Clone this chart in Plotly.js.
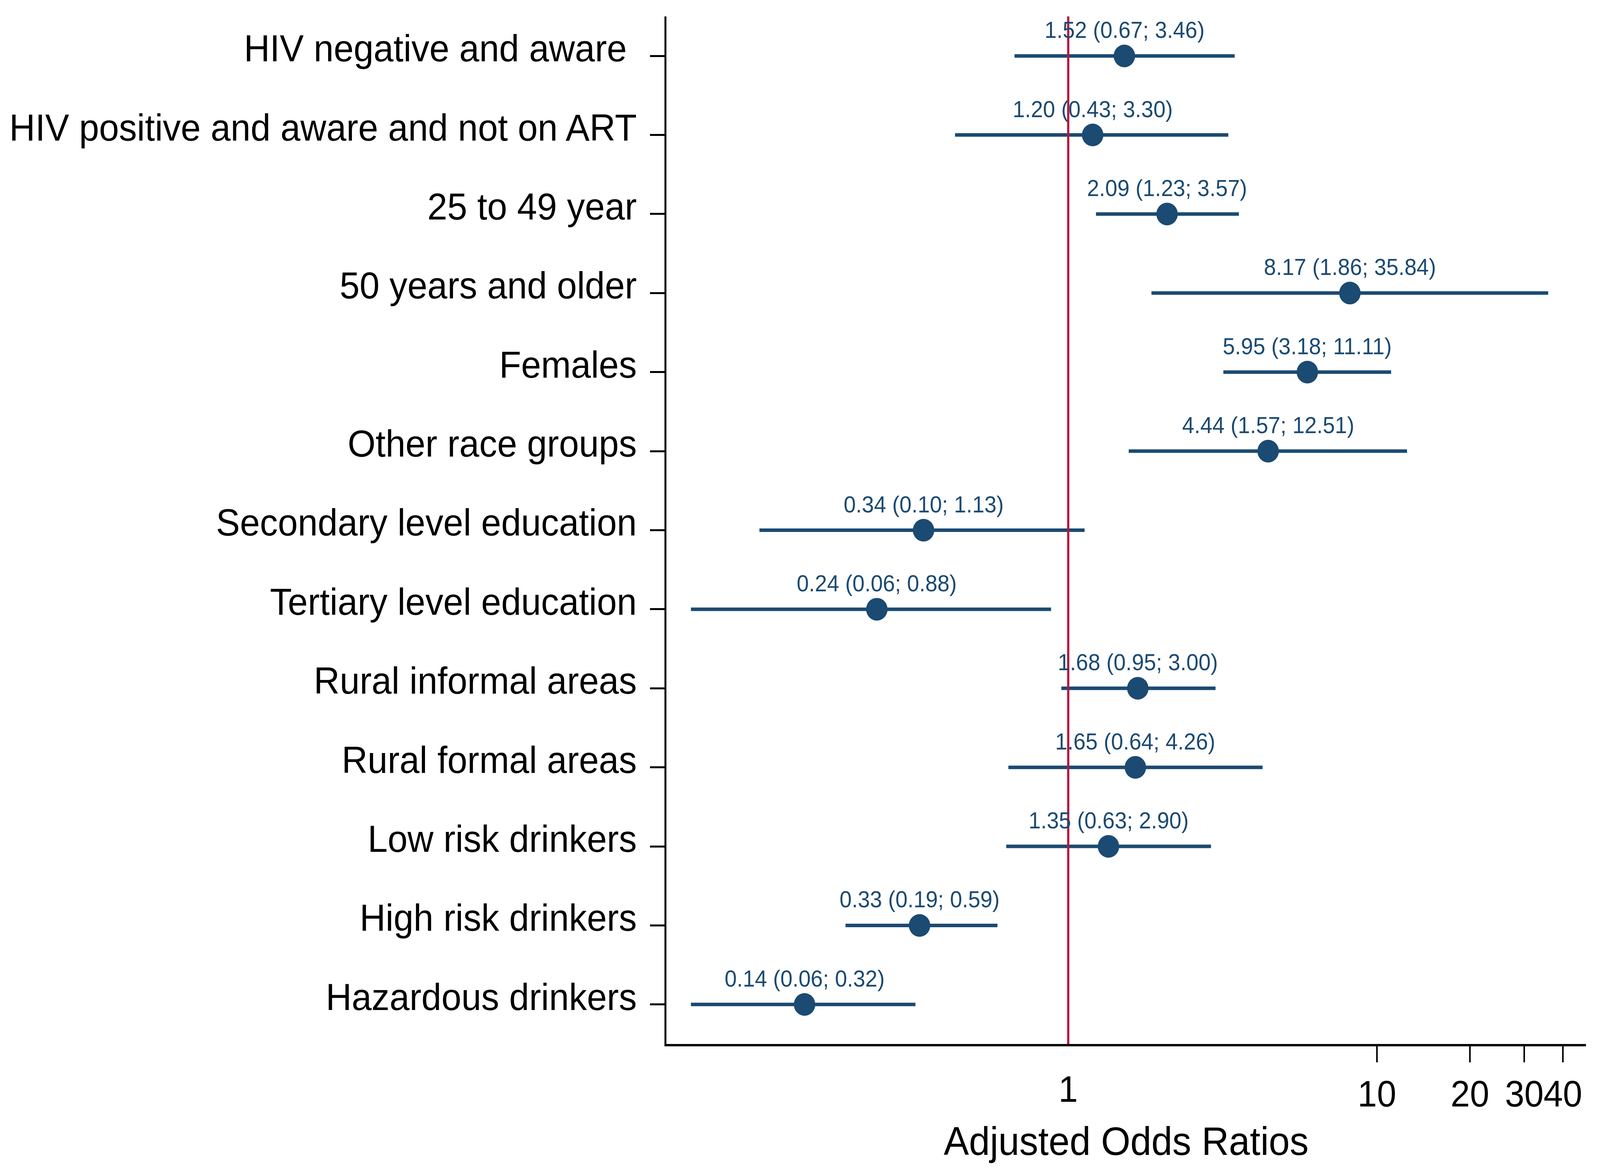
<!DOCTYPE html>
<html>
<head>
<meta charset="utf-8">
<script src="https://cdn.plot.ly/plotly-3.0.1.min.js"></script>
<style>html,body{margin:0;padding:0;background:#fff;overflow:hidden;width:100%;height:100%;}#chart{position:absolute;left:0;top:0;width:4326px;height:3011px;transform-origin:0 0;}</style>
</head>
<body>
<div id="chart"></div>
<script>
// ---- data ----
const categories = [
  "HIV negative and aware\u00a0",
  "HIV positive and aware and not on ART",
  "25 to 49 year",
  "50 years and older",
  "Females",
  "Other race groups",
  "Secondary level education",
  "Tertiary level education",
  "Rural informal areas",
  "Rural formal areas",
  "Low risk drinkers",
  "High risk drinkers",
  "Hazardous drinkers"
];
const oddsRatio = [1.52, 1.20, 2.09, 8.17, 5.95, 4.44, 0.34, 0.24, 1.68, 1.65, 1.35, 0.33, 0.14];
const ciLower   = [0.67, 0.43, 1.23, 1.86, 3.18, 1.57, 0.10, 0.06, 0.95, 0.64, 0.63, 0.19, 0.06];
const ciUpper   = [3.46, 3.30, 3.57, 35.84, 11.11, 12.51, 1.13, 0.88, 3.00, 4.26, 2.90, 0.59, 0.32];
const xTickVals = [10, 20, 30, 40];
const xTickText = ["10", "20", "30", "40"];
const refValue = 1;
const refLabel = "1";

const NAVY = "#1b4a72";
const RED = "#b3173e";
const FONT = "Arial, 'Liberation Sans', sans-serif";

// design size; the drawing is mapped onto the actual viewport afterwards
const W0 = 4326, H0 = 3011;
const vw = window.innerWidth || W0, vh = window.innerHeight || H0;
document.getElementById("chart").style.transform = "scale(" + (vw / W0) + "," + (vh / H0) + ")";

const fmt = v => v.toFixed(2);

const trace = {
  type: "scatter",
  mode: "markers",
  x: oddsRatio,
  y: categories,
  marker: {color: NAVY, size: 58, line: {width: 0}},
  error_x: {
    type: "data",
    symmetric: false,
    array: oddsRatio.map((v, i) => ciUpper[i] - v),
    arrayminus: oddsRatio.map((v, i) => v - ciLower[i]),
    color: NAVY,
    thickness: 9,
    width: 0
  },
  hoverinfo: "skip",
  showlegend: false
};

const annotations = categories.map((c, i) => ({
  x: Math.log10(oddsRatio[i]),
  y: c,
  xref: "x",
  yref: "y",
  text: fmt(oddsRatio[i]) + " (" + fmt(ciLower[i]) + "; " + fmt(ciUpper[i]) + ")",
  showarrow: false,
  xanchor: "center",
  yanchor: "middle",
  yshift: 66,
  font: {family: FONT, size: 59, color: NAVY}
}));

annotations.push({
  x: Math.log10(refValue),
  y: 0,
  xref: "x",
  yref: "paper",
  text: refLabel,
  showarrow: false,
  xanchor: "center",
  yanchor: "top",
  yshift: -61,
  font: {family: FONT, size: 94, color: "#000"}
});

const layout = {
  width: W0,
  height: H0,
  margin: {l: 1802, r: 38, t: 42, b: 338, pad: 0},
  paper_bgcolor: "#fff",
  plot_bgcolor: "#fff",
  font: {family: FONT, color: "#000"},
  xaxis: {
    type: "log",
    range: [Math.log10(0.05), Math.log10(47.5)],
    tickvals: xTickVals,
    ticktext: xTickText,
    tickangle: 0,
    ticks: "outside",
    ticklen: 41,
    tickwidth: 4,
    tickcolor: "#000",
    showline: true,
    linecolor: "#000",
    linewidth: 6,
    showgrid: false,
    zeroline: false,
    tickfont: {family: FONT, size: 94, color: "#000"},
    ticklabelstandoff: 0,
    title: {text: "Adjusted Odds Ratios", font: {family: FONT, size: 102, color: "#000"}, standoff: 36},
    automargin: false,
    fixedrange: true
  },
  yaxis: {
    type: "category",
    categoryorder: "array",
    categoryarray: categories,
    range: [categories.length - 0.5, -0.5],
    ticks: "outside",
    ticklen: 40,
    tickwidth: 5,
    tickcolor: "#000",
    showline: true,
    linecolor: "#000",
    linewidth: 5,
    showgrid: false,
    zeroline: false,
    tickfont: {family: FONT, size: 97, color: "#000"},
    ticklabelstandoff: 16,
    ticklabelshift: 20,
    automargin: false,
    fixedrange: true
  },
  shapes: [{
    type: "line",
    xref: "x",
    yref: "paper",
    x0: refValue,
    x1: refValue,
    y0: 0,
    y1: 1,
    layer: "above",
    line: {color: RED, width: 6}
  }],
  annotations: annotations
};

Plotly.newPlot("chart", [trace], layout, {displayModeBar: false, staticPlot: true});
</script>
</body>
</html>
